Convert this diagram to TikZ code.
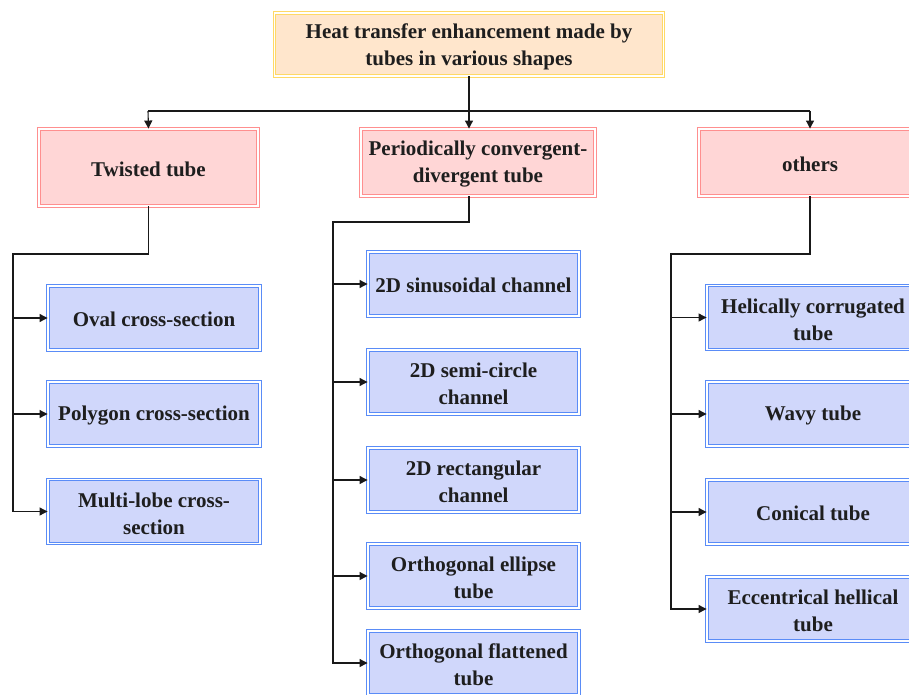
\documentclass[tikz,border=0pt]{standalone}
\usepackage{fontspec}
\setmainfont{Liberation Serif}
\usetikzlibrary{arrows.meta}
\definecolor{topfill}{HTML}{FFE6CC}
\definecolor{topdraw}{HTML}{FFD966}
\definecolor{redfill}{HTML}{FFD6D6}
\definecolor{reddraw}{HTML}{FF8F8F}
\definecolor{bluefill}{HTML}{D0D7FB}
\definecolor{bluedraw}{HTML}{5A8CF7}
\definecolor{txt}{HTML}{1E1E1E}
\tikzset{
  box/.style={rectangle, line width=0.9pt, double=white, double distance=1.4pt, inner sep=0pt},
  tx/.style={align=center, inner sep=0pt, text=txt, font=\fontsize{21}{27}\selectfont\bfseries},
  topbox/.style={box, draw=topdraw, fill=topfill, minimum width=389pt, minimum height=63pt},
  redbox/.style={box, draw=reddraw, fill=redfill},
  bluebox/.style={box, draw=bluedraw, fill=bluefill, minimum height=64pt},
  lbox/.style={bluebox, minimum width=212pt},
  mbox/.style={bluebox, minimum width=211pt},
  rbox/.style={bluebox, minimum width=212pt},
  arr/.style={draw=black!90, line width=1.1pt, -{Triangle[length=8pt,width=8pt]}},
  ln/.style={draw=black!90, line width=1.1pt},
}
\begin{document}
\begin{tikzpicture}[x=1pt,y=-1pt]
\useasboundingbox (0,0) rectangle (909,695);
\clip (0,0) rectangle (909,695);
\node[topbox] (top) at (469,44.5) {};
\node[redbox, minimum width=219pt, minimum height=77pt] (tw) at (148.5,167.5) {};
\node[redbox, minimum width=234pt, minimum height=67pt] (pcd) at (478,162.5) {};
\node[redbox, minimum width=222pt, minimum height=67pt] (oth) at (810,162.5) {};

\node[lbox] (l1) at (154,318) {};
\node[lbox] (l2) at (154,414) {};
\node[lbox] (l3) at (154,511.5) {};

\node[mbox] (m1) at (473.5,284) {};
\node[mbox] (m2) at (473.5,382) {};
\node[mbox] (m3) at (473.5,480) {};
\node[mbox] (m4) at (473.5,576) {};
\node[mbox] (m5) at (473.5,663) {};

\node[rbox] (r1) at (813,317.5) {};
\node[rbox] (r2) at (813,414) {};
\node[rbox] (r3) at (813,512) {};
\node[rbox] (r4) at (813,609) {};

\node[tx] (topt) at ([yshift=-2.5pt]top.center) {Heat transfer enhancement made by\\tubes in various shapes};
\node[tx] (twt) at ([yshift=-1.5pt]tw.center) {Twisted tube};
\node[tx] (pcdt) at ([yshift=-2pt]pcd.center) {Periodically convergent-\\divergent tube};
\node[tx] (otht) at ([yshift=-1.5pt]oth.center) {others};
\node[tx] (l1t) at ([yshift=-1.5pt]l1.center) {Oval cross-section};
\node[tx] (l2t) at ([yshift=-1.5pt]l2.center) {Polygon cross-section};
\node[tx] (l3t) at ([yshift=-2pt]l3.center) {Multi-lobe cross-\\section};
\node[tx] (m1t) at ([yshift=-1pt]m1.center) {2D sinusoidal channel};
\node[tx] (m2t) at ([yshift=-2pt]m2.center) {2D semi-circle\\channel};
\node[tx] (m3t) at ([yshift=-2pt]m3.center) {2D rectangular\\channel};
\node[tx] (m4t) at ([yshift=-2pt]m4.center) {Orthogonal ellipse\\tube};
\node[tx] (m5t) at ([yshift=-2pt]m5.center) {Orthogonal flattened\\tube};
\node[tx] (r1t) at ([yshift=-2pt]r1.center) {Helically corrugated\\tube};
\node[tx] (r2t) at ([yshift=-1.5pt]r2.center) {Wavy tube};
\node[tx] (r3t) at ([yshift=-1.5pt]r3.center) {Conical tube};
\node[tx] (r4t) at ([yshift=-2pt]r4.center) {Eccentrical hellical\\tube};

\coordinate (bus) at (469,111);
\coordinate (busl) at (148,111);
\coordinate (busr) at (810,111);
\draw[ln] (top.south) -- (bus);
\draw[ln] (busl) -- (busr);
\draw[arr] (busl) -- (tw.north);
\draw[arr] (bus) -- (bus |- pcd.north);
\draw[arr] (busr) -- (oth.north);

\coordinate (L) at (13,254);
\draw[ln] (tw.south) |- (L) -- (13,511.5);
\draw[arr] (L) |- (l1.west);
\draw[arr] (L) |- (l2.west);
\draw[arr] (L) |- (l3.west);

\coordinate (pb) at (bus |- pcd.south);
\coordinate (M) at (333,222);
\draw[ln] (pb) |- (M) -- (333,663);
\draw[arr] (M) |- (m1.west);
\draw[arr] (M) |- (m2.west);
\draw[arr] (M) |- (m3.west);
\draw[arr] (M) |- (m4.west);
\draw[arr] (M) |- (m5.west);

\coordinate (R) at (671,254);
\draw[ln] (oth.south) |- (R) -- (671,609);
\draw[arr] (R) |- (r1.west);
\draw[arr] (R) |- (r2.west);
\draw[arr] (R) |- (r3.west);
\draw[arr] (R) |- (r4.west);
\end{tikzpicture}
\end{document}
